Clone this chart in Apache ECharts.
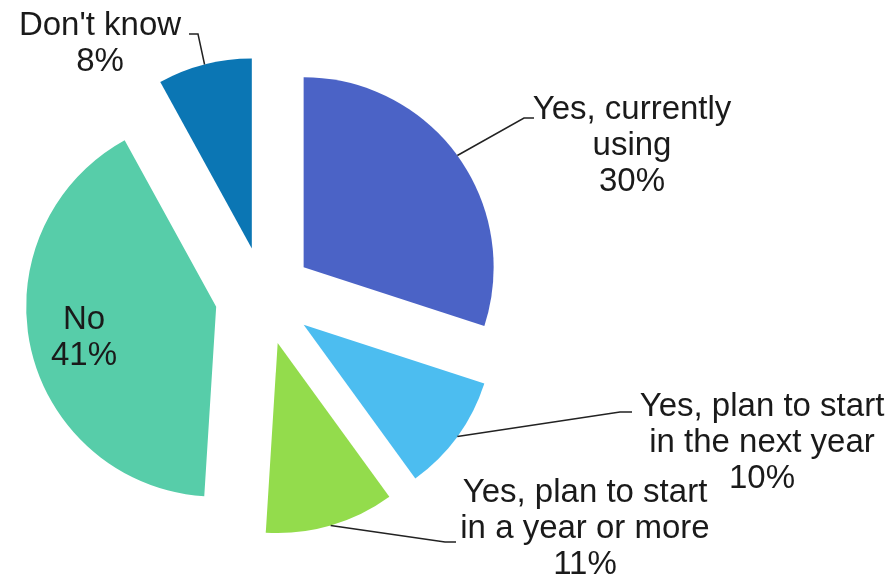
<!DOCTYPE html>
<html>
<head>
<meta charset="utf-8">
<script src="https://cdn.jsdelivr.net/npm/echarts@6/dist/echarts.min.js"></script>
<style>
html,body{margin:0;padding:0;background:#fff;}
#chart{width:890px;height:585px;}
</style>
</head>
<body>
<div id="chart"></div>
<script>
// Data
const categories = ['Yes, currently\nusing', 'Yes, plan to start\nin the next year', 'Yes, plan to start\nin a year or more', 'No', "Don't know"];
const values = [30, 10, 11, 41, 8];
const colors = ['#4b63c6', '#4cbdf0', '#93dc4c', '#57cda9', '#0b76b4'];

// Label layout (positions only): label center and leader line elbow/end
const labelPos = [
  {x: 632, y: 146, elbow: [524, 118], end: [534, 118]},
  {x: 762, y: 443, elbow: [620, 412], end: [632, 412]},
  {x: 585, y: 529, elbow: [445, 542], end: [456, 542]},
  {x: 84, y: 338, elbow: null, end: null},
  {x: 100, y: 44, elbow: [198, 34], end: [189, 34]}
];

const FONT = '"Liberation Sans", Arial, Helvetica, sans-serif';
const SELECTED_OFFSET = 49;

const chart = echarts.init(document.getElementById('chart'), null, {renderer: 'canvas'});
const data = categories.map((name, i) => ({
  name: name,
  value: values[i],
  selected: true,
  itemStyle: {color: colors[i]}
}));

chart.setOption({
  animation: false,
  backgroundColor: '#ffffff',
  series: [{
    type: 'pie',
    center: [264, 296],
    radius: 190,
    startAngle: 90,
    clockwise: true,
    selectedMode: 'multiple',
    selectedOffset: SELECTED_OFFSET,
    silent: true,
    emphasis: {disabled: true},
    data: data,
    label: {show: false},
    labelLine: {show: false}
  }]
});

// Build labels and leader lines from the pie's own computed layout
const seriesModel = chart.getModel().getSeriesByIndex(0);
const sData = seriesModel.getData();
const graphics = [];
for (let i = 0; i < categories.length; i++) {
  const layout = sData.getItemLayout(i);
  const mid = (layout.startAngle + layout.endAngle) / 2;
  const ox = Math.cos(mid) * SELECTED_OFFSET;
  const oy = Math.sin(mid) * SELECTED_OFFSET;
  const anchor = [layout.cx + ox + layout.r * Math.cos(mid), layout.cy + oy + layout.r * Math.sin(mid)];
  const lp = labelPos[i];
  graphics.push({
    type: 'text',
    silent: true,
    z: 10,
    style: {
      text: categories[i] + '\n' + values[i] + '%',
      x: lp.x,
      y: lp.y,
      align: 'center',
      verticalAlign: 'middle',
      textAlign: 'center',
      textVerticalAlign: 'middle',
      fontFamily: FONT,
      fontSize: 33,
      lineHeight: 36,
      fill: '#1a1a1a'
    }
  });
  if (lp.elbow) {
    graphics.push({
      type: 'polyline',
      silent: true,
      z: 9,
      shape: {points: [anchor, lp.elbow, lp.end]},
      style: {stroke: '#222', lineWidth: 1.5, fill: null}
    });
  }
}
chart.setOption({graphic: graphics});
</script>
</body>
</html>
